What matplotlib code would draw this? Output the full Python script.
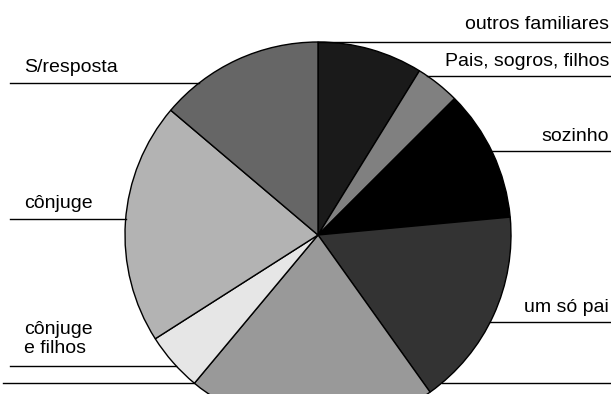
import numpy as np
import matplotlib.pyplot as plt

plt.rcParams['font.family'] = ['Liberation Sans', 'DejaVu Sans']

# fatias no sentido horário a partir do topo (%)
labels = ['outros familiares', 'Pais, sogros, filhos', 'sozinho', 'um só pai',
          '', 'cônjuge\ne filhos', 'cônjuge', 'S/resposta']
values = [8.8, 3.7, 11.0, 16.6, 20.9, 4.9, 20.2, 13.8]
greys = ['#1a1a1a', '#808080', '#000000', '#333333',
         '#999999', '#e6e6e6', '#b3b3b3', '#666666']

W, H = 611, 394
cx, cy, r = 318, H - 235, 193

fig = plt.figure(figsize=(W / 100, H / 100), dpi=100)
ax = fig.add_axes([0, 0, 1, 1])
ax.pie(values, colors=greys, startangle=90, counterclock=False,
       center=(cx, cy), radius=r,
       wedgeprops=dict(edgecolor='black', linewidth=1.0))
ax.set_xlim(0, W)
ax.set_ylim(0, H)
ax.set_aspect('auto')
ax.axis('off')


def edge_x(y, side):
    dy = y - cy
    dx = np.sqrt(max(r * r - dy * dy, 0))
    return cx + side * dx


# (rótulo, lado, y da linha, y do texto) em pixels a partir do topo
layout = [
    (labels[0], 1, 42, 24),
    (labels[1], 1, 76, 61),
    (labels[2], 1, 151, 136),
    (labels[3], 1, 322, 307),
    (labels[4], 1, 383, None),
    (labels[7], -1, 83, 67),
    (labels[6], -1, 219, 203),
    (labels[5], -1, 366, 339),
    ('', -1, 383, None),
]

for text, side, ly, ty in layout:
    y = H - ly
    if side > 0:
        ax.plot([edge_x(y, 1), W], [y, y], color='black', lw=1.0)
        if ty is not None:
            ax.text(609, H - ty, text, ha='right', va='center', fontsize=14)
    else:
        x0 = 3 if ly == 383 else 10
        ax.plot([x0, edge_x(y, -1)], [y, y], color='black', lw=1.0)
        if ty is not None:
            ax.text(24, H - ty, text, ha='left', va='center', fontsize=14,
                    linespacing=1.15)

fig.savefig('out.png', dpi=100)
